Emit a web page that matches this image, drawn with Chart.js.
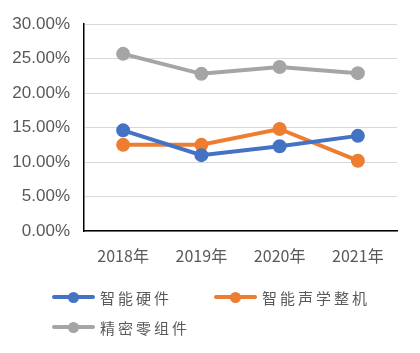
<!DOCTYPE html>
<html>
<head>
<meta charset="utf-8">
<script src="https://cdn.jsdelivr.net/npm/chart.js"></script>
<style>
  html, body { margin: 0; padding: 0; background: #fff; }
  #wrap { position: relative; width: 420px; height: 353px; }
  .leg { position: absolute; display: flex; align-items: center; height: 20px;
         font-family: "Noto Sans CJK SC", sans-serif; font-size: 15px; letter-spacing: 3px; color: #595959; }
  .mk { position: relative; width: 43px; height: 4px; margin-right: 5px; border-radius: 2px; }
  .mk::after { content: ""; position: absolute; left: 16px; top: -3.5px; width: 11px; height: 11px;
               border-radius: 50%; background: inherit; }
</style>
</head>
<body>
<div id="wrap">
  <canvas id="myChart" width="420" height="353"></canvas>
  <div class="leg" style="left:52px; top:287px;"><span class="mk" style="background:#4472C4"></span>智能硬件</div>
  <div class="leg" style="left:214px; top:287px;"><span class="mk" style="background:#ED7D31"></span>智能声学整机</div>
  <div class="leg" style="left:52px; top:317px;"><span class="mk" style="background:#A5A5A5"></span>精密零组件</div>
</div>
<script>
    // 数据
    const years = ['2018年', '2019年', '2020年', '2021年'];
    const hardware = [14.6, 11.0, 12.3, 13.8];   // 智能硬件
    const acoustic = [12.5, 12.5, 14.8, 10.2];   // 智能声学整机
    const components = [25.7, 22.8, 23.8, 22.9]; // 精密零组件

    function line(label, values, color) {
        return {
            label: label,
            data: values,
            borderColor: color,
            backgroundColor: color,
            pointBackgroundColor: color,
            pointBorderColor: color,
            borderWidth: 4,
            pointRadius: 5,
            tension: 0
        };
    }

    const ctx = document.getElementById('myChart');
    myChart = new Chart(ctx, {
        type: 'line',
        data: {
            labels: years,
            datasets: [
                line('智能硬件', hardware, '#4472C4'),
                line('智能声学整机', acoustic, '#ED7D31'),
                line('精密零组件', components, '#A5A5A5')
            ]
        },
        options: {
            responsive: false,
            animation: false,
            layout: { padding: { left: 0, right: 23, top: 22, bottom: 0 } },
            plugins: { legend: { display: false }, tooltip: { enabled: false } },
            scales: {
                x: {
                    offset: true,
                    grid: { display: false, drawTicks: false },
                    border: { color: '#000', width: 1.5 },
                    ticks: { color: '#595959', padding: 15, font: { family: 'Noto Sans CJK SC', size: 16 } },
                    afterFit: function(scale) { scale.height = 122; }
                },
                y: {
                    min: 0,
                    max: 30,
                    grid: { color: '#d9d9d9', drawTicks: false },
                    border: { color: '#000', width: 1.5 },
                    ticks: {
                        stepSize: 5,
                        padding: 14,
                        color: '#595959',
                        font: { family: 'Liberation Sans', size: 17 },
                        callback: function(v) { return v.toFixed(2) + '%'; }
                    },
                    afterFit: function(scale) { scale.width = 84; }
                }
            }
        }
    });
</script>
</body>
</html>
